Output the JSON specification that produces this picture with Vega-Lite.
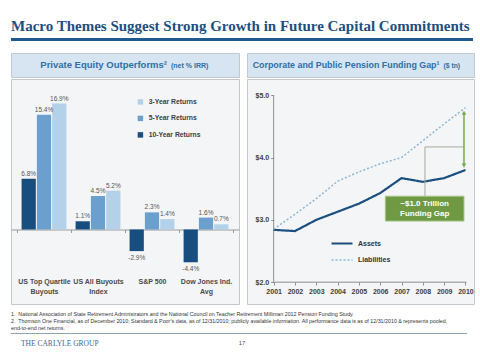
{
  "$schema": "https://vega.github.io/schema/vega-lite/v6.json",
  "padding": {"top": 19, "left": 10, "right": 0, "bottom": 0},
  "background": "white",
  "config": {"view": {"stroke": null}, "font": "Liberation Sans", "concat": {"spacing": 0}},
  "spacing": 11,
  "vconcat": [
    {
      "title": {"text": "Macro Themes Suggest Strong Growth in Future Capital Commitments", "anchor": "start", "font": "Liberation Serif", "fontSize": 15, "fontWeight": "bold", "color": "#1c4f80", "offset": 4},
      "width": 462,
      "height": 3,
      "view": {"fill": "#1f5a8f", "stroke": null},
      "data": {"values": []},
      "mark": {"type": "text"},
      "encoding": {"text": {"value": ""}}
    },
    {
      "spacing": 6,
      "vconcat": [
        {
          "spacing": 6,
          "resolve": {"scale": {"color": "independent", "strokeDash": "independent", "strokeWidth": "independent", "shape": "independent"}, "legend": {"color": "independent", "strokeDash": "independent"}},
          "hconcat": [
            {
              "spacing": 0,
              "vconcat": [
                {
                  "width": 228,
                  "height": 24,
                  "view": {"fill": "#d6e5f1", "stroke": "#c3c8cc"},
                  "data": {"values": [{"main": "Private Equity Outperforms²", "sub": "(net % IRR)"}]},
                  "layer": [
                    {"mark": {"type": "text", "align": "right", "dx": 42, "fontSize": 9.5, "fontWeight": "bold", "color": "#2e6fa8", "baseline": "middle"}, "encoding": {"text": {"field": "main"}}},
                    {"mark": {"type": "text", "align": "left", "dx": 46, "dy": 0.5, "fontSize": 7, "fontWeight": "bold", "color": "#2e6fa8", "baseline": "middle"}, "encoding": {"text": {"field": "sub"}}}
                  ]
                },
                {
                  "width": 228,
                  "height": 225,
                  "view": {"fill": "#f4f5f6", "stroke": "#c3c8cc"},
                  "data": {"values": [
                    {"category": "US Top Quartile|Buyouts", "series": "10-Year Returns", "value": 6.8, "label": "6.8%"},
                    {"category": "US Top Quartile|Buyouts", "series": "5-Year Returns", "value": 15.4, "label": "15.4%"},
                    {"category": "US Top Quartile|Buyouts", "series": "3-Year Returns", "value": 16.9, "label": "16.9%"},
                    {"category": "US All Buyouts|Index", "series": "10-Year Returns", "value": 1.1, "label": "1.1%"},
                    {"category": "US All Buyouts|Index", "series": "5-Year Returns", "value": 4.5, "label": "4.5%"},
                    {"category": "US All Buyouts|Index", "series": "3-Year Returns", "value": 5.2, "label": "5.2%"},
                    {"category": "S&P 500", "series": "10-Year Returns", "value": -2.9, "label": "-2.9%"},
                    {"category": "S&P 500", "series": "5-Year Returns", "value": 2.3, "label": "2.3%"},
                    {"category": "S&P 500", "series": "3-Year Returns", "value": 1.4, "label": "1.4%"},
                    {"category": "Dow Jones Ind.|Avg", "series": "10-Year Returns", "value": -4.4, "label": "-4.4%"},
                    {"category": "Dow Jones Ind.|Avg", "series": "5-Year Returns", "value": 1.6, "label": "1.6%"},
                    {"category": "Dow Jones Ind.|Avg", "series": "3-Year Returns", "value": 0.7, "label": "0.7%"}
                  ]},
                  "encoding": {
                    "x": {
                      "field": "category", "type": "nominal",
                      "sort": ["US Top Quartile|Buyouts", "US All Buyouts|Index", "S&P 500", "Dow Jones Ind.|Avg"],
                      "scale": {"paddingInner": 0, "paddingOuter": 0.111},
                      "axis": {"orient": "bottom", "offset": -74.5, "title": null, "labelAngle": 0, "domainColor": "#9a9a9a", "tickColor": "#9a9a9a", "tickSize": 3, "tickBand": "extent", "labelPadding": 45, "labelFontSize": 7, "labelFontWeight": "bold", "labelColor": "#4a4a4a", "labelBaseline": "top", "labelLineHeight": 10, "labelOverlap": false, "labelLimit": 0, "labelExpr": "split(datum.label, '|')"}
                    },
                    "y": {"field": "value", "type": "quantitative", "scale": {"domain": [-10, 20.2], "nice": false}, "axis": null},
                    "xOffset": {"field": "series", "type": "nominal", "scale": {"domain": ["10-Year Returns", "5-Year Returns", "3-Year Returns"], "paddingInner": 0.07, "paddingOuter": 0.3}}
                  },
                  "layer": [
                    {
                      "mark": {"type": "bar"},
                      "encoding": {
                        "color": {
                          "field": "series", "type": "nominal",
                          "scale": {"domain": ["3-Year Returns", "5-Year Returns", "10-Year Returns"], "range": ["#b4d1ea", "#6a9fce", "#174d7f"]},
                          "legend": {"orient": "none", "legendX": 126, "legendY": 45.5, "title": null, "symbolType": "square", "symbolSize": 30, "symbolStrokeWidth": 0, "labelFontSize": 6.8, "labelFontWeight": "bold", "labelColor": "#404040", "rowPadding": 8.5, "labelOffset": 5, "padding": 0}
                        }
                      }
                    },
                    {
                      "transform": [{"filter": "datum.value >= 0"}],
                      "mark": {"type": "text", "baseline": "bottom", "dy": -2, "fontSize": 6.5, "color": "#555555"},
                      "encoding": {"text": {"field": "label"}}
                    },
                    {
                      "transform": [{"filter": "datum.value < 0"}],
                      "mark": {"type": "text", "baseline": "top", "dy": 4, "fontSize": 6.5, "color": "#555555"},
                      "encoding": {"text": {"field": "label"}}
                    }
                  ]
                }
              ]
            },
            {
              "spacing": 0,
              "vconcat": [
                {
                  "width": 227,
                  "height": 24,
                  "view": {"fill": "#d6e5f1", "stroke": "#c3c8cc"},
                  "data": {"values": [{"main": "Corporate and Public Pension Funding Gap¹", "sub": "($ tn)"}]},
                  "layer": [
                    {"mark": {"type": "text", "align": "right", "dx": 79, "fontSize": 8.9, "fontWeight": "bold", "color": "#2e6fa8", "baseline": "middle"}, "encoding": {"text": {"field": "main"}}},
                    {"mark": {"type": "text", "align": "left", "dx": 83, "dy": 0.5, "fontSize": 6.8, "fontWeight": "bold", "color": "#2e6fa8", "baseline": "middle"}, "encoding": {"text": {"field": "sub"}}}
                  ]
                },
                {
                  "width": 227,
                  "height": 225,
                  "view": {"fill": "#f4f5f6", "stroke": "#c3c8cc"},
                  "encoding": {
                    "x": {"field": "x", "type": "quantitative", "scale": {"domain": [1999.75, 2010.4], "nice": false, "zero": false},
                      "axis": {"orient": "bottom", "offset": -22, "title": null, "values": [2001, 2002, 2003, 2004, 2005, 2006, 2007, 2008, 2009, 2010], "format": "d", "domain": false, "grid": false, "tickSize": 3, "tickColor": "#8f8f8f", "labelPadding": 2, "labelFontSize": 7, "labelFontWeight": "bold", "labelColor": "#404040", "labelFlush": false, "labelOverlap": false}},
                    "y": {"field": "y", "type": "quantitative", "scale": {"domain": [1.65, 5.26], "nice": false, "zero": false},
                      "axis": {"orient": "left", "offset": -26.7, "title": null, "values": [2, 3, 4, 5], "format": "$.1f", "domain": false, "grid": false, "tickSize": 3, "tickColor": "#8f8f8f", "labelPadding": 2, "labelFontSize": 7, "labelFontWeight": "bold", "labelColor": "#404040"}}
                  },
                  "layer": [
                    {
                      "data": {"values": [
                        {"x": 2001, "x2": 2001, "y": 2, "y2": 5},
                        {"x": 2001, "x2": 2010.05, "y": 2, "y2": 2}
                      ]},
                      "mark": {"type": "rule", "color": "#8f8f8f", "strokeWidth": 1},
                      "encoding": {"x2": {"field": "x2"}, "y2": {"field": "y2"}}
                    },
                    {
                      "data": {"values": [
                        {"x": 2001, "series": "Assets", "y": 2.84},
                        {"x": 2002, "series": "Assets", "y": 2.82},
                        {"x": 2003, "series": "Assets", "y": 3.0},
                        {"x": 2004, "series": "Assets", "y": 3.13},
                        {"x": 2005, "series": "Assets", "y": 3.26},
                        {"x": 2006, "series": "Assets", "y": 3.43},
                        {"x": 2007, "series": "Assets", "y": 3.67},
                        {"x": 2008, "series": "Assets", "y": 3.61},
                        {"x": 2009, "series": "Assets", "y": 3.67},
                        {"x": 2010, "series": "Assets", "y": 3.8},
                        {"x": 2001, "series": "Liabilities", "y": 2.85},
                        {"x": 2002, "series": "Liabilities", "y": 3.09},
                        {"x": 2003, "series": "Liabilities", "y": 3.34},
                        {"x": 2004, "series": "Liabilities", "y": 3.62},
                        {"x": 2005, "series": "Liabilities", "y": 3.77},
                        {"x": 2006, "series": "Liabilities", "y": 3.9},
                        {"x": 2007, "series": "Liabilities", "y": 4.0},
                        {"x": 2008, "series": "Liabilities", "y": 4.27},
                        {"x": 2009, "series": "Liabilities", "y": 4.54},
                        {"x": 2010, "series": "Liabilities", "y": 4.8}
                      ]},
                      "mark": {"type": "line", "strokeCap": "butt"},
                      "encoding": {
                        "color": {"field": "series", "type": "nominal", "scale": {"domain": ["Assets", "Liabilities"], "range": ["#1b4f80", "#8cb6d8"]},
                          "legend": {"orient": "none", "legendX": 83, "legendY": 178.5, "title": null, "symbolType": "stroke", "symbolSize": 441, "symbolStrokeWidth": 2, "labelFontSize": 7, "labelFontWeight": "bold", "labelColor": "#333333", "rowPadding": -6, "labelOffset": 4, "padding": 0}},
                        "strokeDash": {"field": "series", "type": "nominal", "scale": {"domain": ["Assets", "Liabilities"], "range": [[1, 0], [2, 2]]},
                          "legend": {"orient": "none", "legendX": 83, "legendY": 178.5, "title": null, "symbolType": "stroke", "symbolSize": 441, "symbolStrokeWidth": 2, "labelFontSize": 7, "labelFontWeight": "bold", "labelColor": "#333333", "rowPadding": -6, "labelOffset": 4, "padding": 0}},
                        "strokeWidth": {"field": "series", "type": "nominal", "scale": {"domain": ["Assets", "Liabilities"], "range": [2.2, 1.5]}, "legend": null}
                      }
                    },
                    {
                      "data": {"values": [
                        {"x": 2008.1, "x2": 2009.93, "y": 4.17, "y2": 4.17},
                        {"x": 2008.1, "x2": 2008.1, "y": 4.17, "y2": 3.38}
                      ]},
                      "mark": {"type": "rule", "color": "#a5aa9c", "strokeWidth": 1},
                      "encoding": {"x2": {"field": "x2"}, "y2": {"field": "y2"}}
                    },
                    {
                      "data": {"values": [{"x": 2009.93, "y": 3.87, "y2": 4.72}]},
                      "mark": {"type": "rule", "color": "#7aa84e", "strokeWidth": 1.5},
                      "encoding": {"y2": {"field": "y2"}}
                    },
                    {
                      "data": {"values": [{"x": 2009.93, "y": 4.72, "dir": "up"}, {"x": 2009.93, "y": 3.87, "dir": "down"}]},
                      "mark": {"type": "point", "filled": true, "size": 22, "color": "#7aa84e", "opacity": 1},
                      "encoding": {
                        "shape": {"field": "dir", "type": "nominal", "scale": {"domain": ["up", "down"], "range": ["triangle-up", "triangle-down"]}, "legend": null}
                      }
                    },
                    {
                      "data": {"values": [{"x": 2006.24, "x2": 2009.93, "y": 2.98, "y2": 3.38}]},
                      "mark": {"type": "rect", "fill": "#6f9a43", "stroke": "#a8c68a", "strokeWidth": 1},
                      "encoding": {"x2": {"field": "x2"}, "y2": {"field": "y2"}}
                    },
                    {
                      "data": {"values": [{"x": 2008.085, "y": 3.25, "t": "~$1.0 Trillion|Funding Gap"}]},
                      "mark": {"type": "text", "lineBreak": "|", "lineHeight": 10, "fontSize": 8, "fontWeight": "bold", "color": "white", "baseline": "middle", "align": "center"},
                      "encoding": {"text": {"field": "t"}}
                    }
                  ]
                }
              ]
            }
          ]
        },
        {
          "width": 456,
          "height": 1,
          "view": {"fill": "#8fa3b3", "stroke": null},
          "title": {
            "text": [
              "1.\u00a0\u00a0National Association of State Retirement Administrators and the National Council on Teacher Retirement Milliman 2012 Pension Funding Study.",
              "2.\u00a0\u00a0Thomson One Financial, as of December 2010; Standard & Poor’s data, as of 12/31/2010; publicly available information. All performance data is as of 12/31/2010 & represents pooled,",
              "\u00a0\u00a0\u00a0\u00a0\u00a0end-to-end net returns."
            ],
            "anchor": "start", "orient": "top", "font": "Liberation Sans", "fontSize": 5.3, "fontWeight": "normal", "color": "#333333", "lineHeight": 7, "offset": 2
          },
          "data": {"values": []},
          "mark": {"type": "text"},
          "encoding": {"text": {"value": ""}}
        },
        {
          "width": 462,
          "height": 6,
          "title": {"text": "THE CARLYLE GROUP", "orient": "bottom", "anchor": "start", "offset": -6, "dx": 10, "font": "Liberation Serif", "fontSize": 7.5, "fontWeight": "normal", "color": "#3f6590", "baseline": "top"},
          "data": {"values": [{"t": "17"}]},
          "mark": {"type": "text", "fontSize": 6, "color": "#555555"},
          "encoding": {"text": {"field": "t"}}
        }
      ]
    }
  ]
}
